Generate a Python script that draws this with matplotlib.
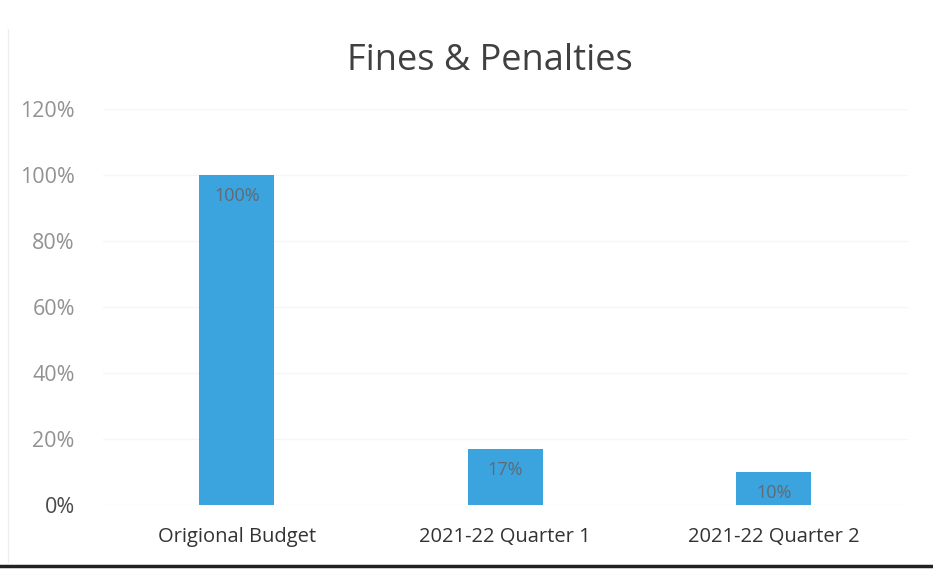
import matplotlib.pyplot as plt
from matplotlib.lines import Line2D

# quarterly fines & penalties as share of the original budget
categories = ["Origional Budget", "2021-22 Quarter 1", "2021-22 Quarter 2"]
shares = [100, 17, 10]
y_ticks = [0, 20, 40, 60, 80, 100, 120]

bar_color = "#3ba3de"

plt.rcParams['font.family'] = ['Open Sans', 'DejaVu Sans']

fig = plt.figure(figsize=(9.33, 5.73), dpi=100)
ax = fig.add_axes([0.110, 0.1187, 0.863, 0.691])

x = range(len(categories))
bars = ax.bar(x, shares, width=0.28, color=bar_color, zorder=2)

# value labels sit just inside the top of each bar
for rect, v in zip(bars, shares):
    ax.annotate("%d%%" % v, (rect.get_x() + rect.get_width() / 2, v),
                xytext=(0, -15), textcoords="offset points",
                ha="center", va="center", fontsize=13, color="#5f6b75")

ax.set_xlim(-0.5, 2.5)
ax.set_ylim(0, 120)
ax.set_yticks(y_ticks)
ax.set_yticklabels(["%d%%" % t for t in y_ticks], fontsize=15.5, color="#929292")
ax.get_yticklabels()[0].set_color("#4a4a4a")
ax.set_xticks(list(x))
ax.set_xticklabels(categories, fontsize=14.5, color="#333333")
ax.tick_params(length=0, pad=20)
ax.tick_params(axis="x", pad=16)

ax.grid(axis="y", color="#f6f6f6", linewidth=1, zorder=0)
for s in ax.spines.values():
    s.set_visible(False)

fig.text(0.525, 0.893, "Fines & Penalties", ha="center", va="center",
         fontsize=26, color="#404040")

# frame edges of the scanned page
fig.add_artist(Line2D([0, 1], [0.012, 0.012], color="#222222", linewidth=2.5))
fig.add_artist(Line2D([0.009, 0.009], [0.02, 0.95], color="#eeeeee", linewidth=1))

fig.savefig("out.png", dpi=100)
